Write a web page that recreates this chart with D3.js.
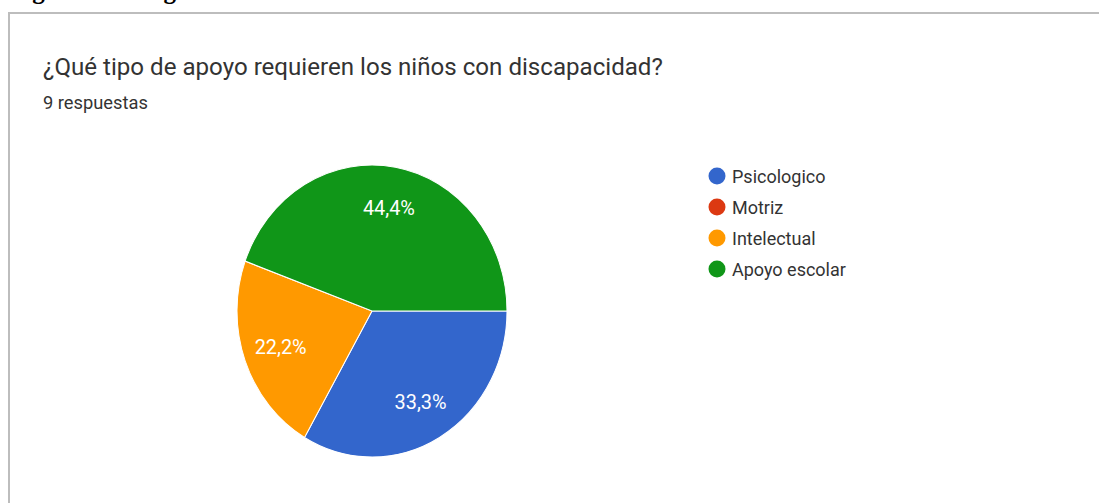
<!DOCTYPE html>
<html>
<head>
<meta charset="utf-8">
<script src="https://cdn.jsdelivr.net/npm/d3@7"></script>
<style>
  body { margin: 0; background: #fff; }
  text { font-family: Roboto, "Noto Sans", sans-serif; }
</style>
</head>
<body>
<svg id="chart"></svg>
<script>
(function () {

// Data
const categories = ["Psicologico", "Motriz", "Intelectual", "Apoyo escolar"];
const counts = [3, 0, 2, 4];
const labels = ["33,3%", "0%", "22,2%", "44,4%"];
const colors = ["#3366cc", "#dc3912", "#ff9900", "#109618"];

const title = "¿Qué tipo de apoyo requieren los niños con discapacidad?";
const subtitle = "9 respuestas";
const caption = "Figura 9. Categorías";

const width = 1099, height = 503;

const svg = d3.select("#chart")
    .attr("width", width)
    .attr("height", height);

// scale a text's font so it spans the width seen in the reference
function fit(sel, base, target) {
    const w = sel.node().getComputedTextLength();
    sel.style("font-size", (base * target / w) + "px");
}

// caption above the card, only its descenders show
svg.append("text")
    .attr("x", 10)
    .attr("y", -1)
    .style("font-family", "'Liberation Serif', serif")
    .style("font-weight", "bold")
    .style("font-size", "25px")
    .attr("fill", "#000")
    .text(caption);

// card border (bottom runs off the picture)
svg.append("path")
    .attr("d", `M9,${height + 5} V13 H${width + 5}`)
    .attr("fill", "none")
    .attr("stroke", "#bdbdbd")
    .attr("stroke-width", 2);

const t = svg.append("text")
    .attr("x", 43)
    .attr("y", 75)
    .style("font-size", "20px")
    .attr("fill", "#333")
    .text(title);
fit(t, 20, 620);

const s = svg.append("text")
    .attr("x", 43)
    .attr("y", 109)
    .style("font-size", "16px")
    .attr("fill", "#333")
    .text(subtitle);
fit(s, 16, 105);

// Pie (the picture is a bit stretched vertically)
const r = 135;
const g = svg.append("g")
    .attr("transform", `translate(372,311) scale(1,${146 / 135})`);

const pie = d3.pie()
    .sort(null)
    .value(d => d)
    .startAngle(Math.PI / 2)
    .endAngle(Math.PI / 2 + 2 * Math.PI);

const arcs = pie(counts);
const arc = d3.arc().innerRadius(0).outerRadius(r);
const labelArc = d3.arc().innerRadius(r * 0.72).outerRadius(r * 0.72);

g.selectAll("path")
    .data(arcs.filter(d => d.value > 0))
    .enter().append("path")
    .attr("d", arc)
    .attr("fill", d => colors[d.index])
    .attr("stroke", "#fff")
    .attr("stroke-width", 1);

const lbl = g.selectAll(".lbl")
    .data(arcs.filter(d => d.value > 0))
    .enter().append("text")
    .attr("class", "lbl")
    .attr("transform", d => {
        const [x, y] = labelArc.centroid(d);
        return `translate(${x},${y}) scale(1,${135 / 146})`;
    })
    .attr("text-anchor", "middle")
    .attr("dy", "0.36em")
    .attr("fill", "#fff")
    .style("font-size", "15px")
    .text(d => labels[d.index]);
fit(lbl.filter(d => d.index === 3), 15, 52);
lbl.style("font-size", lbl.filter(d => d.index === 3).style("font-size"));

// Legend
const legend = svg.append("g")
    .attr("transform", "translate(717,176)");

const item = legend.selectAll("g")
    .data(categories)
    .enter().append("g")
    .attr("transform", (d, i) => `translate(0,${i * 31})`);

item.append("circle")
    .attr("r", 8.5)
    .attr("fill", (d, i) => colors[i]);

const lt = item.append("text")
    .attr("x", 15)
    .attr("dy", "0.36em")
    .style("font-size", "16px")
    .attr("fill", "#333")
    .text(d => d);
fit(lt.filter(d => d === "Apoyo escolar"), 16, 114);
lt.style("font-size", lt.filter(d => d === "Apoyo escolar").style("font-size"));

})();
</script>
</body>
</html>
